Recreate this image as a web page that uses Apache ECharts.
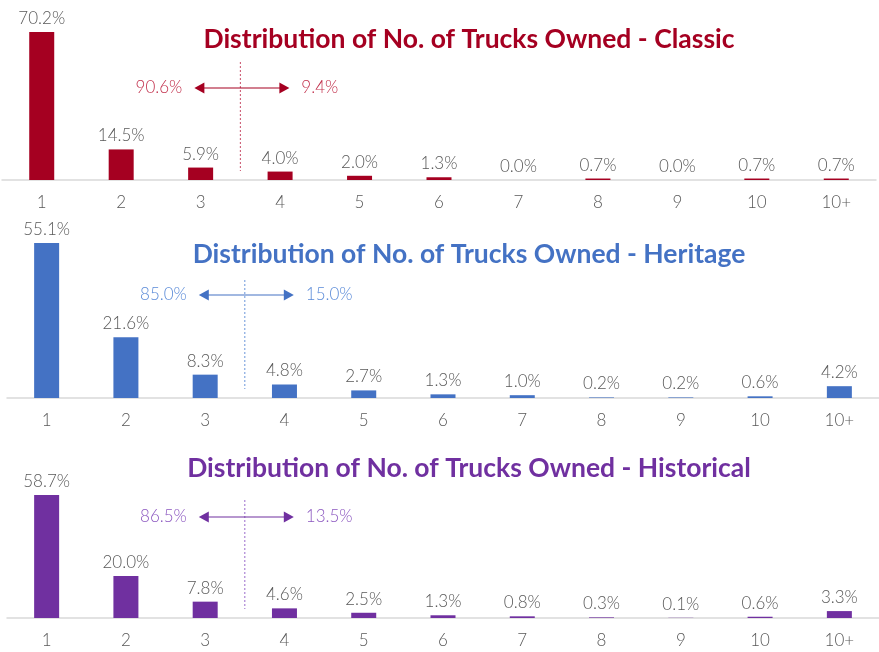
<!DOCTYPE html>
<html>
<head>
<meta charset="utf-8">
<script src="https://cdn.jsdelivr.net/npm/echarts@6/dist/echarts.min.js"></script>
<style>
  html, body { margin: 0; padding: 0; background: #fff; }
  #main { width: 879px; height: 652px; }
</style>
</head>
<body>
<div id="main"></div>
<script>
var categories = ['1', '2', '3', '4', '5', '6', '7', '8', '9', '10', '10+'];
var classicVals = [70.2, 14.5, 5.9, 4.0, 2.0, 1.3, 0.0, 0.7, 0.0, 0.7, 0.7];
var heritageVals = [55.1, 21.6, 8.3, 4.8, 2.7, 1.3, 1.0, 0.2, 0.2, 0.6, 4.2];
var historicalVals = [58.7, 20.0, 7.8, 4.6, 2.5, 1.3, 0.8, 0.3, 0.1, 0.6, 3.3];
var titles = [
  'Distribution of No. of Trucks Owned - Classic',
  'Distribution of No. of Trucks Owned - Heritage',
  'Distribution of No. of Trucks Owned - Historical'
];
var splitLeft = ['90.6%', '85.0%', '86.5%'];
var splitRight = ['9.4%', '15.0%', '13.5%'];

var barColors = ['#a50021', '#4472c4', '#7030a0'];
var noteColors = ['#c2304c', '#5b8bd8', '#8c58c0'];
var dashColors = ['#c94d68', '#6a95da', '#9a6bcb'];
var allVals = [classicVals, heritageVals, historicalVals];

var FONT = 'Lato, "Open Sans", sans-serif';
var grids = [
  { left: 2, width: 874, top: 32, height: 148 },
  { left: 7, width: 873, top: 243, height: 155 },
  { left: 7, width: 873, top: 495, height: 123 }
];
var titleTops = [21, 236, 450];

var myChart = echarts.init(document.getElementById('main'));

var option = {
  animation: false,
  backgroundColor: '#fff',
  title: titles.map(function (t, i) {
    return {
      text: t,
      left: 464,
      textAlign: 'center',
      top: titleTops[i],
      textStyle: { color: barColors[i], fontFamily: FONT, fontWeight: 'bold', fontSize: 26.5 }
    };
  }),
  grid: grids,
  xAxis: allVals.map(function (v, i) {
    return {
      type: 'category',
      gridIndex: i,
      data: categories,
      axisTick: { show: false },
      axisLine: { lineStyle: { color: '#d9d9d9', width: 1.5 } },
      axisLabel: { color: '#595959', fontSize: 17, fontWeight: 300, fontFamily: FONT, margin: 14 }
    };
  }),
  yAxis: allVals.map(function (v, i) {
    return {
      type: 'value',
      gridIndex: i,
      min: 0,
      max: Math.max.apply(null, v),
      show: false,
      splitLine: { show: false }
    };
  }),
  series: allVals.map(function (v, i) {
    return {
      type: 'bar',
      xAxisIndex: i,
      yAxisIndex: i,
      data: v,
      barWidth: 25,
      itemStyle: { color: barColors[i] },
      label: {
        show: true,
        position: 'top',
        distance: 5,
        color: '#595959',
        fontSize: 17,
        fontWeight: 300,
        fontFamily: FONT,
        formatter: function (p) { return p.value.toFixed(1) + '%'; }
      }
    };
  })
};
myChart.setOption(option);

// split annotation between "3" and "4", placed from the axes
var arrowOffsets = [92, 103, 101];
var graphics = [];
allVals.forEach(function (v, i) {
  var x3 = myChart.convertToPixel({ xAxisIndex: i }, '3');
  var x4 = myChart.convertToPixel({ xAxisIndex: i }, '4');
  var base = myChart.convertToPixel({ yAxisIndex: i }, 0);
  var mid = (x3 + x4) / 2;
  var ay = base - arrowOffsets[i];
  var lx = mid - 46, rx = mid + 49;
  graphics.push({
    type: 'line',
    shape: { x1: mid, y1: base - 118, x2: mid, y2: base - 9 },
    style: { stroke: dashColors[i], lineWidth: 1, lineDash: [2, 2] }
  });
  graphics.push({
    type: 'line',
    shape: { x1: lx + 8, y1: ay, x2: rx - 8, y2: ay },
    style: { stroke: barColors[i], lineWidth: 1.2 }
  });
  graphics.push({
    type: 'polygon',
    shape: { points: [[lx, ay], [lx + 10, ay - 5.5], [lx + 10, ay + 5.5]] },
    style: { fill: barColors[i] }
  });
  graphics.push({
    type: 'polygon',
    shape: { points: [[rx, ay], [rx - 10, ay - 5.5], [rx - 10, ay + 5.5]] },
    style: { fill: barColors[i] }
  });
  graphics.push({
    type: 'text',
    x: mid - 58,
    y: ay,
    style: {
      text: splitLeft[i], fill: noteColors[i], font: '300 17px ' + FONT,
      align: 'right', verticalAlign: 'middle'
    }
  });
  graphics.push({
    type: 'text',
    x: mid + 61,
    y: ay,
    style: {
      text: splitRight[i], fill: noteColors[i], font: '300 17px ' + FONT,
      align: 'left', verticalAlign: 'middle'
    }
  });
});
myChart.setOption({ graphic: graphics });
</script>
</body>
</html>
